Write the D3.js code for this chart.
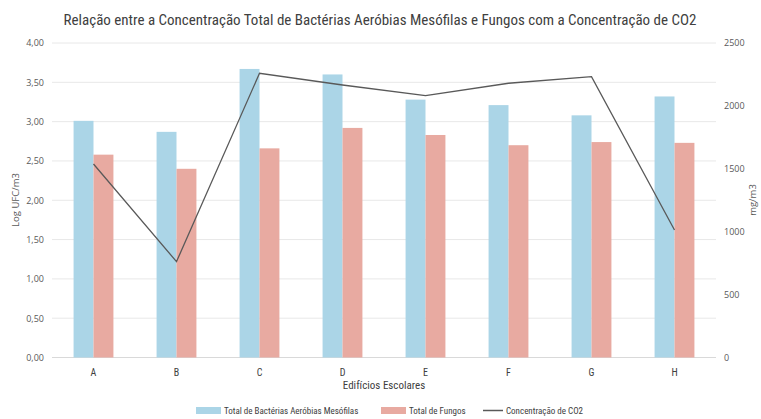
<!DOCTYPE html>
<html>
<head>
<meta charset="utf-8">
<script src="https://cdn.jsdelivr.net/npm/d3@7"></script>
<style>
  html, body { margin: 0; padding: 0; background: #fff; }
  svg { display: block; }
  .cond { font-family: "Liberation Sans Narrow", "Roboto Condensed", "Roboto", sans-serif; }
  .tick text { font-family: "Open Sans", "Noto Sans", sans-serif; font-size: 9px; fill: #595959; }
</style>
</head>
<body>
<svg id="chart" width="761" height="419"></svg>
<script>
// Buildings and measured values
const categories = ["A", "B", "C", "D", "E", "F", "G", "H"];
const bacterias = [3.01, 2.87, 3.67, 3.60, 3.28, 3.21, 3.08, 3.32];   // Log UFC/m3
const fungos = [2.58, 2.40, 2.66, 2.92, 2.83, 2.70, 2.74, 2.73];      // Log UFC/m3
const co2 = [1538, 762, 2259, 2166, 2081, 2180, 2232, 1014];          // mg/m3
const leftTicks = [0, 0.5, 1, 1.5, 2, 2.5, 3, 3.5, 4];
const rightTicks = [0, 500, 1000, 1500, 2000, 2500];
const seriesNames = ["Total de Bactérias Aeróbias Mesófilas", "Total de Fungos", "Concentração de CO2"];

const colBlue = "#abd5e7", colPink = "#e8aaa1", colLine = "#595959";

const svg = d3.select("#chart");
const plot = { left: 52, right: 716, top: 43, bottom: 357.5 };

const x0 = d3.scaleBand().domain(categories).range([plot.left, plot.right])
  .paddingInner(0.52).paddingOuter(0.26);
const x1 = d3.scaleBand().domain([0, 1]).range([0, x0.bandwidth()]);
const yL = d3.scaleLinear().domain([0, 4]).range([plot.bottom, plot.top]);
const yR = d3.scaleLinear().domain([0, 2500]).range([plot.bottom, plot.top]);
const cx = c => x0(c) + x0.bandwidth() / 2;

// Title
svg.append("text").attr("class", "cond")
  .attr("x", 380).attr("y", 25).attr("text-anchor", "middle")
  .attr("font-size", 15).attr("fill", "#404040")
  .text("Relação entre a Concentração Total de Bactérias Aeróbias Mesófilas e Fungos com a Concentração de CO2");

// Gridlines from the left axis
svg.append("g").selectAll("line").data(leftTicks).join("line")
  .attr("x1", plot.left).attr("x2", plot.right)
  .attr("y1", d => yL(d)).attr("y2", d => yL(d))
  .attr("stroke", d => d === 0 ? "#d9d9d9" : "#e8e8e8").attr("stroke-width", 1);

// Left axis
const fmt = d => d3.format(".2f")(d).replace(".", ",");
const gL = svg.append("g").attr("transform", `translate(${plot.left - 6},0)`)
  .call(d3.axisLeft(yL).tickValues(leftTicks).tickFormat(fmt).tickSize(0).tickPadding(2));
gL.select(".domain").remove();

// Right axis
const gR = svg.append("g").attr("transform", `translate(${plot.right + 6},0)`)
  .call(d3.axisRight(yR).tickValues(rightTicks).tickFormat(d3.format("d")).tickSize(0).tickPadding(2));
gR.select(".domain").remove();

// Bars
const bars = svg.append("g");
bars.selectAll(".bac").data(categories).join("rect").attr("class", "bac")
  .attr("x", c => x0(c) + x1(0)).attr("width", x1.bandwidth())
  .attr("y", (c, i) => yL(bacterias[i])).attr("height", (c, i) => yL(0) - yL(bacterias[i]))
  .attr("fill", colBlue);
bars.selectAll(".fun").data(categories).join("rect").attr("class", "fun")
  .attr("x", c => x0(c) + x1(1)).attr("width", x1.bandwidth())
  .attr("y", (c, i) => yL(fungos[i])).attr("height", (c, i) => yL(0) - yL(fungos[i]))
  .attr("fill", colPink);

// CO2 line on the secondary axis
const line = d3.line().x((d, i) => cx(categories[i])).y(d => yR(d));
svg.append("path").datum(co2).attr("d", line)
  .attr("fill", "none").attr("stroke", colLine).attr("stroke-width", 1.3)
  .attr("stroke-linejoin", "miter");

// Category labels
svg.append("g").selectAll("text").data(categories).join("text").attr("class", "cond")
  .attr("x", c => cx(c)).attr("y", 376).attr("text-anchor", "middle")
  .attr("font-size", 10).attr("fill", "#404040").text(d => d);

// Axis titles
svg.append("text").attr("class", "cond")
  .attr("x", 384).attr("y", 389).attr("text-anchor", "middle")
  .attr("font-size", 11).attr("fill", "#404040").text("Edifícios Escolares");
svg.append("text")
  .attr("transform", "translate(19,200) rotate(-90)").attr("text-anchor", "middle")
  .attr("font-family", "Open Sans, sans-serif").attr("font-size", 9.5).attr("fill", "#595959")
  .text("Log UFC/m3");
svg.append("text")
  .attr("transform", "translate(756,200) rotate(-90)").attr("text-anchor", "middle")
  .attr("font-family", "Open Sans, sans-serif").attr("font-size", 9.5).attr("fill", "#595959")
  .text("mg/m3");

// Legend
const lg = svg.append("g");
const legendItems = [
  { x: 196, type: "rect", color: colBlue, name: seriesNames[0] },
  { x: 381, type: "rect", color: colPink, name: seriesNames[1] },
  { x: 483, type: "line", color: colLine, name: seriesNames[2] }
];
legendItems.forEach(it => {
  if (it.type === "rect") {
    lg.append("rect").attr("x", it.x).attr("y", 407).attr("width", 25).attr("height", 7).attr("fill", it.color);
  } else {
    lg.append("line").attr("x1", it.x).attr("x2", it.x + 20).attr("y1", 410.5).attr("y2", 410.5)
      .attr("stroke", it.color).attr("stroke-width", 1.5);
  }
  lg.append("text").attr("class", "cond")
    .attr("x", it.x + (it.type === "rect" ? 28 : 23)).attr("y", 414)
    .attr("font-size", 9).attr("fill", "#404040").text(it.name);
});
</script>
</body>
</html>
